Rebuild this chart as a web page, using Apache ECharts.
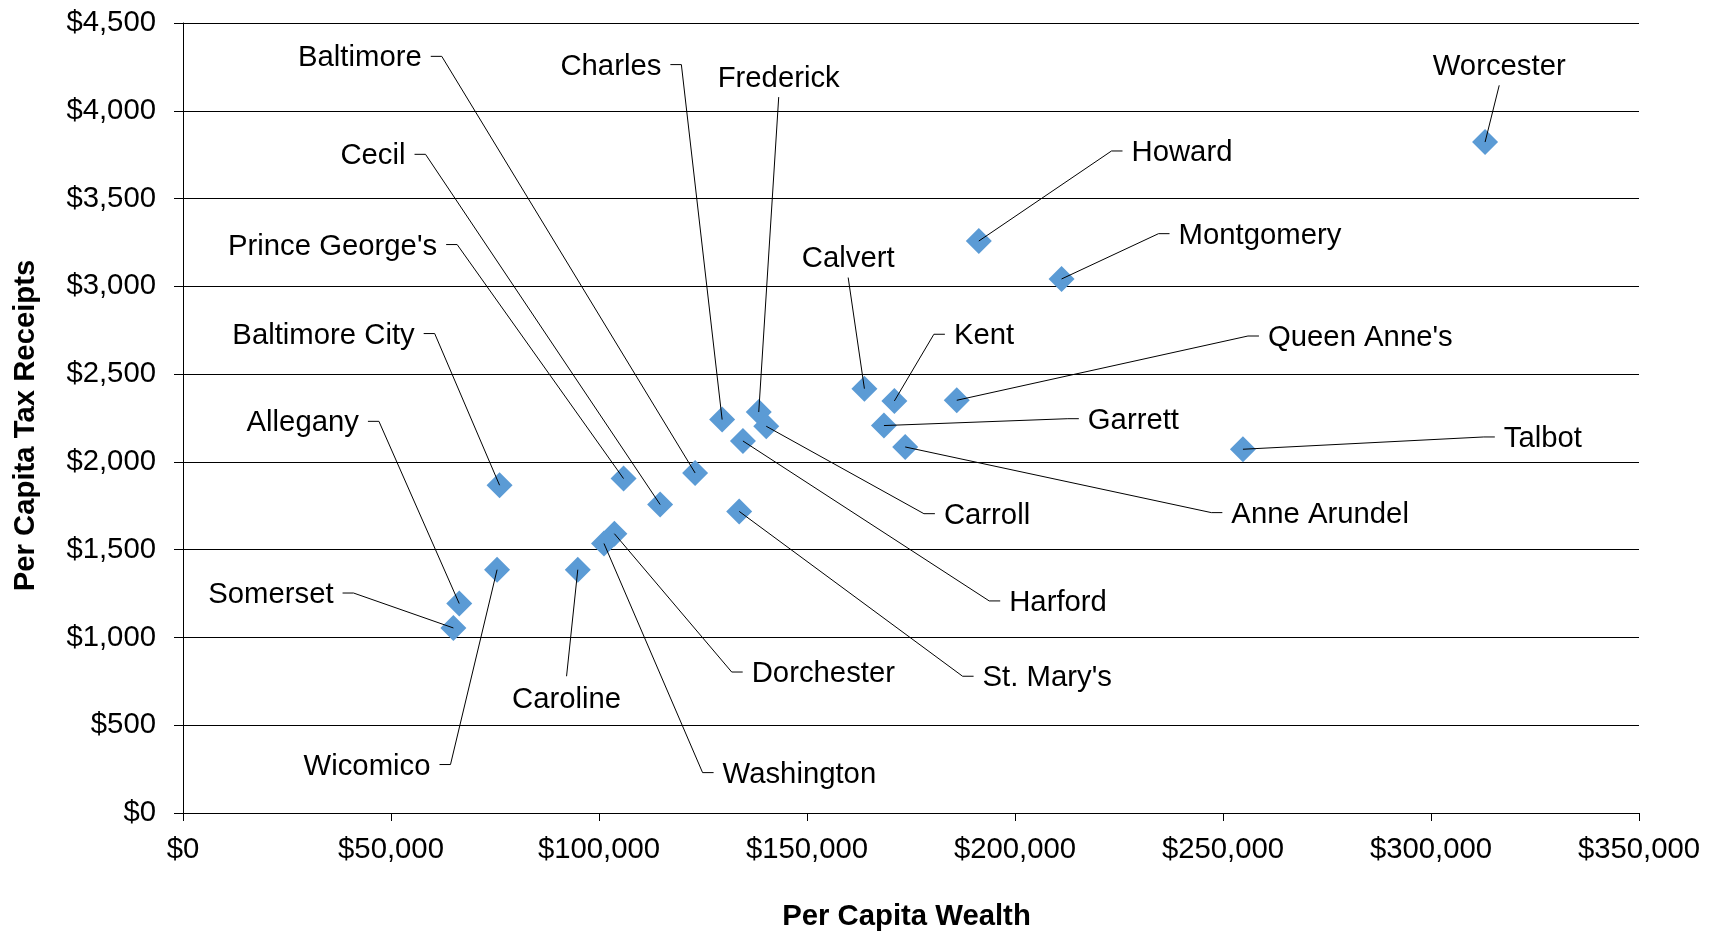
<!DOCTYPE html>
<html>
<head>
<meta charset="utf-8">
<script src="https://cdn.jsdelivr.net/npm/echarts@6/dist/echarts.min.js"></script>
<style>
html, body { margin: 0; padding: 0; background: #ffffff; }
#chart { width: 1713px; height: 933px; }
</style>
</head>
<body>
<div id="chart"></div>
<script>
// ---------------- DATA ----------------
const counties = [
  'Worcester', 'Howard', 'Montgomery', 'Calvert', 'Kent', "Queen Anne's",
  'Garrett', 'Anne Arundel', 'Talbot', 'Charles', 'Frederick', 'Carroll',
  'Harford', 'Baltimore', "St. Mary's", 'Cecil', "Prince George's", 'Baltimore City',
  'Dorchester', 'Washington', 'Caroline', 'Wicomico', 'Allegany', 'Somerset'
];
const perCapitaWealth = [
  313000, 191300, 211200, 163800, 171000, 186000,
  168500, 173600, 254800, 129600, 138400, 140200,
  134600, 123100, 133700, 114700, 105900, 76100,
  103700, 101200, 94900, 75500, 66400, 65000
];
const perCapitaTaxReceipts = [
  3822, 3258, 3042, 2417, 2347, 2351,
  2207, 2085, 2072, 2241, 2284, 2203,
  2119, 1937, 1718, 1757, 1905, 1867,
  1591, 1535, 1386, 1386, 1193, 1054
];
const xTickValues = [0, 50000, 100000, 150000, 200000, 250000, 300000, 350000];
const xTickLabels = ['$0', '$50,000', '$100,000', '$150,000', '$200,000', '$250,000', '$300,000', '$350,000'];
const yTickValues = [0, 500, 1000, 1500, 2000, 2500, 3000, 3500, 4000, 4500];
const yTickLabels = ['$0', '$500', '$1,000', '$1,500', '$2,000', '$2,500', '$3,000', '$3,500', '$4,000', '$4,500'];

// ---------------- LABEL LAYOUT (annotation placement, in axis units) ----------------
// side: L = text left of leader tick, R = text right, T = text above, B = text below
const labelSide = {
  'Worcester': 'T', 'Howard': 'R', 'Montgomery': 'R', 'Calvert': 'T', 'Kent': 'R', "Queen Anne's": 'R',
  'Garrett': 'R', 'Anne Arundel': 'R', 'Talbot': 'R', 'Charles': 'L', 'Frederick': 'T', 'Carroll': 'R',
  'Harford': 'R', 'Baltimore': 'L', "St. Mary's": 'R', 'Cecil': 'L', "Prince George's": 'L', 'Baltimore City': 'L',
  'Dorchester': 'R', 'Washington': 'R', 'Caroline': 'B', 'Wicomico': 'L', 'Allegany': 'L', 'Somerset': 'L'
};
const labelAnchorX = {
  'Worcester': 316400, 'Howard': 223200, 'Montgomery': 234500, 'Calvert': 159900, 'Kent': 180500, "Queen Anne's": 256000,
  'Garrett': 212700, 'Anne Arundel': 247200, 'Talbot': 312700, 'Charles': 119800, 'Frederick': 143200, 'Carroll': 178100,
  'Harford': 193800, 'Baltimore': 62200, "St. Mary's": 187400, 'Cecil': 58300, "Prince George's": 65900, 'Baltimore City': 60500,
  'Dorchester': 131900, 'Washington': 124900, 'Caroline': 92200, 'Wicomico': 64300, 'Allegany': 47100, 'Somerset': 41000
};
const labelAnchorY = {
  'Worcester': 4145, 'Howard': 3771, 'Montgomery': 3300, 'Calvert': 3050, 'Kent': 2727, "Queen Anne's": 2717,
  'Garrett': 2246, 'Anne Arundel': 1711, 'Talbot': 2142, 'Charles': 4263, 'Frederick': 4078, 'Carroll': 1705,
  'Harford': 1208, 'Baltimore': 4310, "St. Mary's": 779, 'Cecil': 3752, "Prince George's": 3238, 'Baltimore City': 2731,
  'Dorchester': 803, 'Washington': 230, 'Caroline': 779, 'Wicomico': 276, 'Allegany': 2231, 'Somerset': 1253
};

// ---------------- STYLE ----------------
const FONT_FAMILY = '"Liberation Sans", Arial, Helvetica, sans-serif';
const FONT_SIZE = 29.3;
const FONT = FONT_SIZE + 'px ' + FONT_FAMILY;
const TICK = 11;
const GAP = 9;
const TEXT_DY = 2;
const GAP_TOP = 4;
const GAP_BOTTOM = 9;
const MARKER_COLOR = '#5B9BD5';
const LINE_COLOR = '#000000';

const chart = echarts.init(document.getElementById('chart'), null, { renderer: 'canvas' });

const scatterData = counties.map((n, i) => [perCapitaWealth[i], perCapitaTaxReceipts[i]]);
const labelData = counties.map((n, i) => [perCapitaWealth[i], perCapitaTaxReceipts[i], labelAnchorX[n], labelAnchorY[n], i]);

function renderLabel(params, api) {
  const i = api.value(4);
  const name = counties[i];
  const side = labelSide[name];
  const p = api.coord([api.value(0), api.value(1)]);
  const a = api.coord([api.value(2), api.value(3)]);
  let pts, tx, ty, align, va;
  if (side === 'L') {
    pts = [p, a, [a[0] - TICK, a[1]]]; tx = a[0] - TICK - GAP; ty = a[1] + TEXT_DY; align = 'right'; va = 'middle';
  } else if (side === 'R') {
    pts = [p, a, [a[0] + TICK, a[1]]]; tx = a[0] + TICK + GAP; ty = a[1] + TEXT_DY; align = 'left'; va = 'middle';
  } else if (side === 'T') {
    pts = [p, a]; tx = a[0]; ty = a[1] - GAP_TOP; align = 'center'; va = 'bottom';
  } else {
    pts = [p, a]; tx = a[0]; ty = a[1] + GAP_BOTTOM; align = 'center'; va = 'top';
  }
  return {
    type: 'group',
    children: [
      { type: 'polyline', shape: { points: pts }, style: { stroke: LINE_COLOR, lineWidth: 1, fill: null } },
      { type: 'text', x: tx, y: ty,
        style: { text: name, fill: '#000', font: FONT, align: align, verticalAlign: va, textAlign: align, textVerticalAlign: va } }
    ]
  };
}

const xInterval = xTickValues[1] - xTickValues[0];
const yInterval = yTickValues[1] - yTickValues[0];

chart.setOption({
  animation: false,
  backgroundColor: '#ffffff',
  grid: { left: 183, right: 74, top: 23, bottom: 120, containLabel: false, outerBoundsMode: 'none' },
  xAxis: {
    type: 'value',
    min: xTickValues[0], max: xTickValues[xTickValues.length - 1], interval: xInterval,
    name: 'Per Capita Wealth', nameLocation: 'middle', nameGap: 89,
    nameTextStyle: { fontFamily: FONT_FAMILY, fontSize: FONT_SIZE, fontWeight: 'bold', color: '#000', padding: [0, 9, 0, 0] },
    axisLine: { show: true, lineStyle: { color: LINE_COLOR, width: 1 } },
    axisTick: { show: true, inside: false, length: 8, lineStyle: { color: LINE_COLOR, width: 1 } },
    axisLabel: {
      margin: 22, fontFamily: FONT_FAMILY, fontSize: FONT_SIZE, color: '#000',
      formatter: v => xTickLabels[Math.round((v - xTickValues[0]) / xInterval)]
    },
    splitLine: { show: false }
  },
  yAxis: {
    type: 'value',
    min: yTickValues[0], max: yTickValues[yTickValues.length - 1], interval: yInterval,
    name: 'Per Capita Tax Receipts', nameLocation: 'middle', nameGap: 143,
    nameTextStyle: { fontFamily: FONT_FAMILY, fontSize: FONT_SIZE, fontWeight: 'bold', color: '#000', padding: [0, 15, 0, 0] },
    axisLine: { show: true, lineStyle: { color: LINE_COLOR, width: 1 } },
    axisTick: { show: true, inside: false, length: 9, lineStyle: { color: LINE_COLOR, width: 1 } },
    axisLabel: {
      margin: 27, fontFamily: FONT_FAMILY, fontSize: FONT_SIZE, color: '#000',
      formatter: v => yTickLabels[Math.round((v - yTickValues[0]) / yInterval)]
    },
    splitLine: { show: true, lineStyle: { color: LINE_COLOR, width: 1 } }
  },
  series: [
    {
      type: 'scatter',
      symbol: 'diamond',
      symbolSize: 26,
      itemStyle: { color: MARKER_COLOR, opacity: 1 },
      data: scatterData,
      z: 2,
      silent: true
    },
    {
      type: 'custom',
      renderItem: renderLabel,
      data: labelData,
      encode: { x: [0, 2], y: [1, 3] },
      z: 3,
      silent: true
    }
  ]
});
</script>
</body>
</html>
